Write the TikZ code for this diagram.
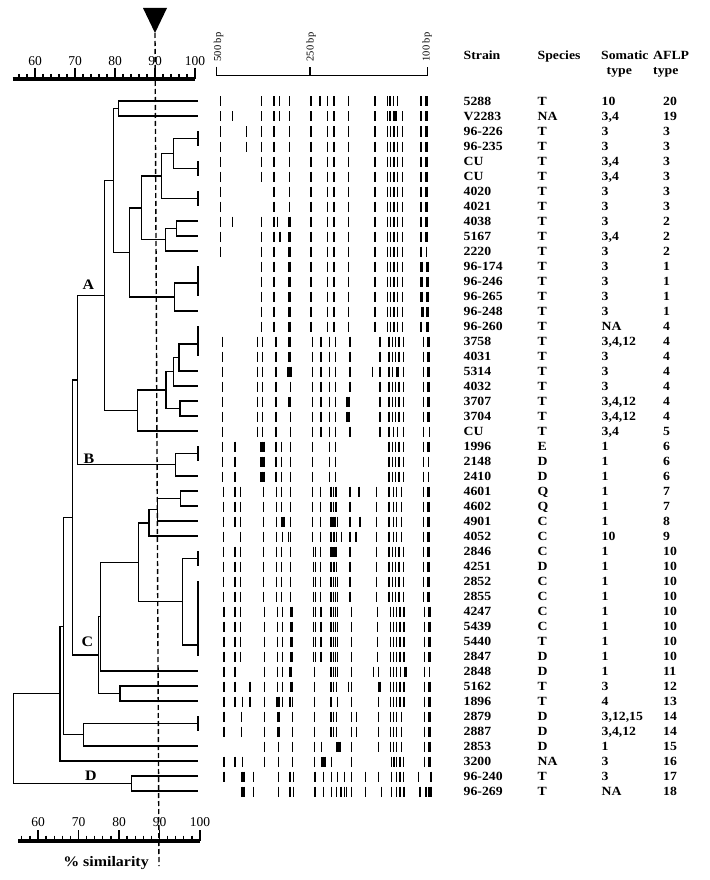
\documentclass[tikz,border=0pt]{standalone}
\usepackage{fontspec}
\setmainfont{Liberation Serif}
\newfontfamily\tabfont{Liberation Serif}[FakeStretch=1.1]
\usetikzlibrary{calc}
\tikzset{
  dend/.style={line width=1.3pt},
  tab/.style={anchor=base west, inner sep=0pt, font=\tabfont\bfseries\fontsize{12.5}{14}\selectfont},
  scalelbl/.style={anchor=base, inner sep=0pt, font=\fontsize{13.5}{15}\selectfont},
  bplbl/.style={rotate=90, inner sep=0pt, font=\fontsize{10.5}{12}\selectfont},
  clus/.style={anchor=base, inner sep=0pt, font=\tabfont\bfseries\fontsize{14.5}{16}\selectfont},
}
\newcommand\dn[5]{\coordinate (#1) at (#2,#3); \draw[dend] (#4) -| (#1) |- (#5);}
\newcommand\grp[4]{\coordinate (#1) at (198,#4); \draw[dend] (#2) -- (#3);}
\newcommand\bands[2]{\foreach \v in {#2}{%
  \pgfmathsetmacro\zz{\v>1000 ? \v-1000 : abs(\v)}%
  \pgfmathsetmacro\lw{\v>1000 ? 3.6 : (\v<0 ? 2.5 : 1.3)}%
  \pgfmathsetmacro\yb{101.5+15*(#1-1)}%
  \draw[line width=\lw pt] ({200+\zz/3},{\yb-5}) -- ({200+\zz/3},{\yb+5});}}
\begin{document}
\begin{tikzpicture}[x=1pt,y=-1pt]
\fill[white] (0,0) rectangle (709,880);
\useasboundingbox (0,0) rectangle (709,880);

% ---------- top scale ----------
\draw[line width=3.2pt] (12.7,79) -- (195,79);
\foreach \s in {56,58,...,100}{
  \pgfmathsetmacro\xx{4*\s-205}
  \pgfmathtruncatemacro\m{mod(\s,10)}
  \ifnum\m=0 \draw[line width=1.3pt] (\xx,68) -- (\xx,79);
  \else \draw[line width=1.3pt] (\xx,74) -- (\xx,79); \fi
}
\foreach \s in {60,70,80,90,100}{
  \node[scalelbl] (t\s) at ({4*\s-205},65.6) {\s};
}
% ---------- bottom scale ----------
\draw[line width=3.2pt] (18.3,841) -- (200,841);
\foreach \s in {56,58,...,100}{
  \pgfmathsetmacro\xx{4.05*\s-205}
  \pgfmathtruncatemacro\m{mod(\s,10)}
  \ifnum\m=0 \draw[line width=1.3pt] (\xx,830) -- (\xx,841);
  \else \draw[line width=1.3pt] (\xx,835.5) -- (\xx,841); \fi
}
\foreach \s in {60,70,80,90,100}{
  \node[scalelbl] (b\s) at ({4.05*\s-205},826) {\s};
}
\node[clus] (simlbl) at (106,866) {\% similarity};

% ---------- leaves ----------
\foreach \i in {1,...,47}{ \coordinate (L\i) at (198,{101+15*(\i-1)}); }

% ---------- 100% groups ----------
\grp{G34}{L3}{L4}{138.5}
\grp{G56}{L5}{L6}{168.5}
\grp{G78}{L7}{L8}{198.5}
\grp{G1214}{L12}{L14}{283}
\grp{G1618}{L16}{L18}{344}
\grp{G2425}{L24}{L25}{453.5}
\grp{G3132}{L31}{L32}{558.5}
\grp{G3338}{L33}{L38}{645}
\grp{G4243}{L42}{L43}{723.5}

% ---------- dendrogram ----------
\dn{N12}{118.3}{108.5}{L1}{L2}
\dn{N36}{173.3}{153.5}{G34}{G56}
\dn{N38}{161.7}{176}{N36}{G78}
\dn{N910}{176.7}{228.5}{L9}{L10}
\dn{N911}{165.7}{239.75}{N910}{L11}
\dn{N311}{141.7}{207.9}{N38}{N911}
\dn{N1215}{174.3}{297}{G1214}{L15}
\dn{N315}{129.3}{252.5}{N311}{N1215}
\dn{N115}{113.3}{180.5}{N12}{N315}
\dn{N1619}{179}{357.5}{G1618}{L19}
\dn{N1620}{173.3}{371.75}{N1619}{L20}
\dn{N2122}{180}{408.5}{L21}{L22}
\dn{N1622}{166}{390.1}{N1620}{N2122}
\dn{N1623}{137.3}{410.6}{N1622}{L23}
\dn{NA}{104.3}{295.5}{N115}{N1623}
\dn{NB}{175.7}{464.75}{G2425}{L26}
\dn{NAB}{77.7}{380.1}{NA}{NB}
\dn{N2728}{180.7}{498.5}{L27}{L28}
\dn{N2729}{157.3}{509.75}{N2728}{L29}
\dn{N2730}{149}{522.9}{N2729}{L30}
\dn{N3138}{182.3}{601.75}{G3132}{G3338}
\dn{N2738}{138.3}{562.3}{N2730}{N3138}
\dn{N2739}{100.7}{616.7}{N2738}{L39}
\dn{N4041}{120}{693.5}{L40}{L41}
\dn{NC}{98.3}{655.1}{N2739}{N4041}
\dn{NABC}{72.7}{517.6}{NAB}{NC}
\dn{N4244}{83.3}{734.75}{G4243}{L44}
\dn{N4}{63.3}{626.2}{NABC}{N4244}
\dn{N5}{60}{693.6}{N4}{L45}
\dn{N4647}{131.7}{783.5}{L46}{L47}
\dn{Root}{13.3}{738.5}{N5}{N4647}

\node[clus] (labA) at (88.3,289.3) {A};
\node[clus] (labB) at (89,463.3) {B};
\node[clus] (labC) at (87.5,646.5) {C};
\node[clus] (labD) at (90.8,780) {D};

% ---------- cut-off marker ----------
\fill (143,8) -- (167,8) -- (155,33) -- cycle;
\coordinate (cutTop) at (155,33);
\coordinate (cutBot) at (159,866);
\draw[line width=1.4pt, dash pattern=on 5pt off 3pt] (cutTop) -- (cutBot);

% ---------- band size scale ----------
\draw[line width=1.3pt] (216.7,66.7) -- (216.7,75.7) -- (427.7,75.7) -- (427.7,66.7);
\draw[line width=1.3pt] (310,75.7) -- (310,66.7);
\node[bplbl] (bp500) at (218.5,47) {500 bp};
\node[bplbl] (bp250) at (311,47) {250 bp};
\node[bplbl] (bp100) at (427,47) {100 bp};

% ---------- bands ----------
\bands{1}{62,185,222,238,268,333,360,383,402,445,525,562,570,580,592,663,-680}
\bands{2}{62,98,185,222,238,268,333,383,402,445,525,562,570,1585,607,663,-680}
\bands{3}{62,140,185,222,268,333,383,402,445,525,562,572,582,592,607,663,-680}
\bands{4}{62,140,185,222,268,333,383,402,445,525,562,572,582,592,607,663,-680}
\bands{5}{62,185,222,268,333,383,402,445,525,562,572,582,592,607,663,-680}
\bands{6}{62,185,222,268,333,383,402,445,525,562,572,582,592,607,663,-680}
\bands{7}{62,222,268,333,383,402,445,525,562,572,582,592,607,663,-680}
\bands{8}{62,222,268,333,383,402,445,525,562,572,582,592,607,663,-680}
\bands{9}{62,98,185,222,232,-268,333,383,402,445,525,562,572,582,592,607,663,-680}
\bands{10}{62,185,222,240,-268,333,383,402,445,525,562,572,582,592,607,663,-680}
\bands{11}{62,185,222,-268,333,383,402,445,525,562,572,582,592,607,663,680}
\bands{12}{185,222,-268,333,383,402,445,525,562,572,582,592,607,-665,-683}
\bands{13}{185,222,-268,333,383,402,445,525,562,572,582,592,607,-665,-683}
\bands{14}{185,222,-268,333,383,402,445,525,562,572,582,592,607,-665,-683}
\bands{15}{185,222,-268,333,383,402,445,525,562,572,582,592,607,-667,-683}
\bands{16}{185,222,-268,333,383,402,445,525,562,572,582,592,607,663,-683}
\bands{17}{67,172,187,228,1268,337,363,388,407,450,540,567,577,587,597,610,670,-686}
\bands{18}{67,172,187,228,1268,337,363,388,407,450,540,567,577,587,597,610,670,-686}
\bands{19}{67,172,187,228,-265,-272,337,363,388,407,450,517,540,567,577,1592,610,670,-686}
\bands{20}{67,172,187,228,272,337,363,388,407,450,540,567,577,587,597,610,670,-686}
\bands{21}{67,172,187,228,1268,337,363,388,407,441,447,540,567,577,587,597,610,670,-686}
\bands{22}{67,172,187,228,272,337,363,388,407,441,447,540,567,577,587,597,610,670,-686}
\bands{23}{67,172,187,228,272,337,363,388,407,450,540,567,580,592,610,670,688}
\bands{24}{67,105,-185,-191,228,245,272,337,388,407,567,577,587,597,610,670,-686}
\bands{25}{67,105,-185,-191,228,245,272,337,388,407,567,577,587,597,610,670,686}
\bands{26}{67,105,-185,-191,228,245,272,337,388,407,567,577,587,597,610,670,686}
\bands{27}{70,105,122,190,230,245,272,337,362,393,400,408,450,477,530,567,580,590,605,670,-686}
\bands{28}{70,105,122,190,230,245,272,337,362,393,400,408,450,530,567,580,590,605,670,-686}
\bands{29}{70,105,122,190,230,-247,253,272,337,362,393,399,405,412,450,480,530,567,580,590,605,670,-686}
\bands{30}{70,122,190,230,247,265,272,337,362,393,402,410,425,450,468,530,567,580,590,605,670,-686}
\bands{31}{70,105,122,190,230,245,272,340,347,362,393,-401,408,450,530,567,577,587,597,610,670,-686}
\bands{32}{70,105,122,190,230,245,272,340,347,362,393,-402,410,450,530,567,577,587,597,610,670,-686}
\bands{33}{70,105,122,190,230,245,272,340,347,362,393,400,407,413,450,530,567,577,587,597,610,670,-686}
\bands{34}{70,105,122,190,230,245,272,340,347,362,393,400,407,413,450,530,567,577,587,597,610,670,-686}
\bands{35}{72,105,122,193,232,248,-275,340,347,363,393,400,407,413,455,533,572,580,590,600,612,673,-688}
\bands{36}{72,105,122,193,232,248,-275,340,347,363,393,400,407,413,455,533,572,580,590,600,612,673,-688}
\bands{37}{72,105,122,193,232,248,-275,340,347,363,393,400,407,413,455,533,572,580,590,600,612,673,-688}
\bands{38}{72,105,122,193,232,248,-275,340,347,363,393,400,407,413,455,533,572,580,590,600,612,673,-688}
\bands{39}{72,105,193,232,248,1272,343,393,400,407,413,455,520,535,572,580,590,602,-617,673,688}
\bands{40}{72,105,150,193,232,248,-275,343,393,400,410,445,455,535,540,572,580,590,600,612,673,-688}
\bands{41}{72,105,128,150,193,-232,-237,248,270,277,343,393,412,455,535,572,580,590,600,612,673,-688}
\bands{42}{72,125,193,-235,278,343,393,400,410,455,470,535,572,580,590,605,673,-688}
\bands{43}{72,125,193,-235,278,343,393,400,410,455,470,535,572,580,590,605,673,-688}
\bands{44}{193,235,278,343,365,-413,-418,455,535,572,580,590,605,673,-688}
\bands{45}{72,105,128,193,235,278,343,-368,-373,395,455,575,582,590,600,610,673,-688}
\bands{46}{72,-126,-131,160,235,270,280,345,370,395,413,433,455,497,535,575,590,600,610,655,693}
\bands{47}{-126,-132,160,235,270,280,345,370,395,410,423,433,440,455,497,545,575,590,600,612,660,678,-688,693}

% ---------- table ----------
\node[tab] (hStrain) at (463.5,59.3) {Strain};
\node[tab] (hSpecies) at (537.5,59.3) {Species};
\node[tab] (hSom) at (601,59.3) {Somatic};
\node[tab] (hSomT) at (606.5,74.5) {type};
\node[tab] (hAFLP) at (653,59.3) {AFLP};
\node[tab] (hAFLPT) at (653,74.5) {type};

\foreach \i/\st/\sp/\so/\af in {
 1/5288/T/10/20, 2/V2283/NA/{3,4}/19, 3/96-226/T/3/3, 4/96-235/T/3/3,
 5/CU/T/{3,4}/3, 6/CU/T/{3,4}/3, 7/4020/T/3/3, 8/4021/T/3/3,
 9/4038/T/3/2, 10/5167/T/{3,4}/2, 11/2220/T/3/2, 12/96-174/T/3/1,
 13/96-246/T/3/1, 14/96-265/T/3/1, 15/96-248/T/3/1, 16/96-260/T/NA/4,
 17/3758/T/{3,4,12}/4, 18/4031/T/3/4, 19/5314/T/3/4, 20/4032/T/3/4,
 21/3707/T/{3,4,12}/4, 22/3704/T/{3,4,12}/4, 23/CU/T/{3,4}/5, 24/1996/E/1/6,
 25/2148/D/1/6, 26/2410/D/1/6, 27/4601/Q/1/7, 28/4602/Q/1/7,
 29/4901/C/1/8, 30/4052/C/10/9, 31/2846/C/1/10, 32/4251/D/1/10,
 33/2852/C/1/10, 34/2855/C/1/10, 35/4247/C/1/10, 36/5439/C/1/10,
 37/5440/T/1/10, 38/2847/D/1/10, 39/2848/D/1/11, 40/5162/T/3/12,
 41/1896/T/4/13, 42/2879/D/{3,12,15}/14, 43/2887/D/{3,4,12}/14, 44/2853/D/1/15,
 45/3200/NA/3/16, 46/96-240/T/3/17, 47/96-269/T/NA/18}{
  \pgfmathsetmacro\yy{101+15*(\i-1)+4.2}
  \node[tab] (st\i) at (463.5,\yy) {\st};
  \node[tab] (sp\i) at (537.5,\yy) {\sp};
  \node[tab] (so\i) at (601.5,\yy) {\so};
  \node[tab] (af\i) at (663,\yy) {\af};
}
\end{tikzpicture}
\end{document}
